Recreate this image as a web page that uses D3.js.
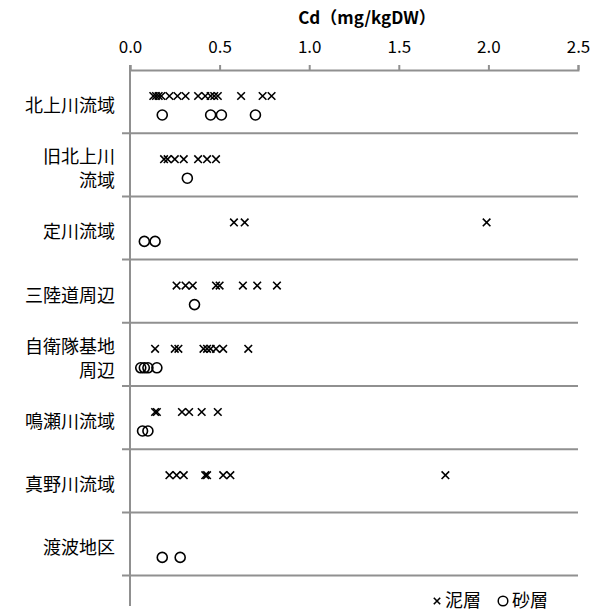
<!DOCTYPE html>
<html>
<head>
<meta charset="utf-8">
<script src="https://cdn.jsdelivr.net/npm/d3@7"></script>
<style>
  html, body { margin: 0; padding: 0; background: #fff; }
  svg { display: block; }
  text { font-family: "Noto Sans CJK JP", "Noto Sans", sans-serif; fill: #000; }
</style>
</head>
<body>
<svg id="chart" width="599" height="614"></svg>
<script>
// Sampling areas (last slot left empty for the legend row)
const categories = ["北上川流域", "旧北上川\n流域", "定川流域", "三陸道周辺", "自衛隊基地\n周辺", "鳴瀬川流域", "真野川流域", "渡波地区", ""];

// Cd concentration in mud layer (泥層), mg/kgDW, one list per area
const mudValues = [
  [0.13, 0.145, 0.16, 0.175, 0.22, 0.265, 0.31, 0.38, 0.42, 0.45, 0.47, 0.49, 0.62, 0.74, 0.79],
  [0.19, 0.21, 0.25, 0.30, 0.38, 0.43, 0.48],
  [0.58, 0.64, 1.99],
  [0.26, 0.31, 0.35, 0.48, 0.50, 0.63, 0.71, 0.82],
  [0.14, 0.25, 0.27, 0.41, 0.43, 0.45, 0.48, 0.52, 0.66],
  [0.14, 0.15, 0.29, 0.33, 0.40, 0.49],
  [0.22, 0.26, 0.30, 0.42, 0.43, 0.52, 0.56, 1.76],
  [],
  []
];

// Cd concentration in sand layer (砂層), mg/kgDW
const sandValues = [
  [0.18, 0.45, 0.51, 0.70],
  [0.32],
  [0.08, 0.14],
  [0.36],
  [0.06, 0.08, 0.10, 0.15],
  [0.07, 0.10],
  [],
  [0.18, 0.28],
  []
];

const xTicks = [0, 0.5, 1.0, 1.5, 2.0, 2.5];
const axisTitle = "Cd（mg/kgDW）";
const legendItems = [{ symbol: "mud", label: "泥層" }, { symbol: "sand", label: "砂層" }];

const svg = d3.select("#chart");
const plotLeft = 130, plotRight = 578, plotTop = 70, rowH = 63.2;
const axisColor = "#909090";

const x = d3.scaleLinear().domain([0, 2.5]).range([plotLeft, plotRight]);
const y = d3.scaleBand().domain(d3.range(categories.length)).range([plotTop, plotTop + rowH * categories.length]).padding(0);

// Row separators with small outward ticks on the left
const seps = d3.range(1, categories.length).map(i => y(i));
svg.append("g").selectAll("line").data(seps).join("line")
  .attr("x1", plotLeft - 8).attr("x2", plotRight)
  .attr("y1", d => d).attr("y2", d => d)
  .attr("stroke", axisColor).attr("stroke-width", 2);

// Vertical category axis
svg.append("line")
  .attr("x1", plotLeft).attr("x2", plotLeft)
  .attr("y1", plotTop - 5).attr("y2", 606)
  .attr("stroke", axisColor).attr("stroke-width", 2);

// Top value axis
const xAxis = d3.axisTop(x).tickValues(xTicks).tickFormat(d3.format(".1f")).tickSize(5).tickPadding(12);
const gx = svg.append("g").attr("transform", `translate(0,${plotTop})`).call(xAxis);
gx.select(".domain").attr("stroke", axisColor).attr("stroke-width", 2);
gx.selectAll(".tick line").attr("stroke", axisColor).attr("stroke-width", 2);
gx.selectAll(".tick text").attr("font-size", 17).attr("font-family", "'Noto Sans CJK JP', sans-serif").attr("fill", "#000");

svg.append("text")
  .attr("x", 367).attr("y", 24)
  .attr("text-anchor", "middle")
  .attr("font-size", 17).attr("font-weight", "bold")
  .text(axisTitle);

// Category labels, right aligned left of the axis
const labels = svg.append("g");
categories.forEach((c, i) => {
  if (!c) return;
  const lines = c.split("\n");
  const cy = y(i) + rowH / 2 + 4;
  const t = labels.append("text")
    .attr("text-anchor", "end").attr("font-size", 18);
  lines.forEach((ln, k) => {
    t.append("tspan")
      .attr("x", 115)
      .attr("y", cy + (k - (lines.length - 1) / 2) * 24)
      .attr("dy", "0.35em")
      .text(ln);
  });
});

const crossPath = s => `M${-s},${-s}L${s},${s}M${-s},${s}L${s},${-s}`;

// Mud layer markers (×), upper row of each band
const mudPts = mudValues.flatMap((vals, i) => vals.map(v => ({ v, i })));
svg.append("g").selectAll("path").data(mudPts).join("path")
  .attr("transform", d => `translate(${x(d.v)},${y(d.i) + 26})`)
  .attr("d", crossPath(3.8))
  .attr("fill", "none").attr("stroke", "#000").attr("stroke-width", 1.6);

// Sand layer markers (○), lower row of each band
const sandPts = sandValues.flatMap((vals, i) => vals.map(v => ({ v, i })));
svg.append("g").selectAll("circle").data(sandPts).join("circle")
  .attr("cx", d => x(d.v)).attr("cy", d => y(d.i) + 45)
  .attr("r", 5).attr("fill", "none").attr("stroke", "#000").attr("stroke-width", 1.6);

// Legend
const lg = svg.append("g").attr("transform", "translate(0,601)");
lg.append("path").attr("transform", "translate(437,0)").attr("d", crossPath(3.2))
  .attr("fill", "none").attr("stroke", "#000").attr("stroke-width", 1.6);
lg.append("text").attr("x", 445).attr("y", 0).attr("dy", "0.35em").attr("font-size", 18).text(legendItems[0].label);
lg.append("circle").attr("cx", 503).attr("cy", 0).attr("r", 4.8)
  .attr("fill", "none").attr("stroke", "#000").attr("stroke-width", 1.5);
lg.append("text").attr("x", 512).attr("y", 0).attr("dy", "0.35em").attr("font-size", 18).text(legendItems[1].label);
</script>
</body>
</html>
